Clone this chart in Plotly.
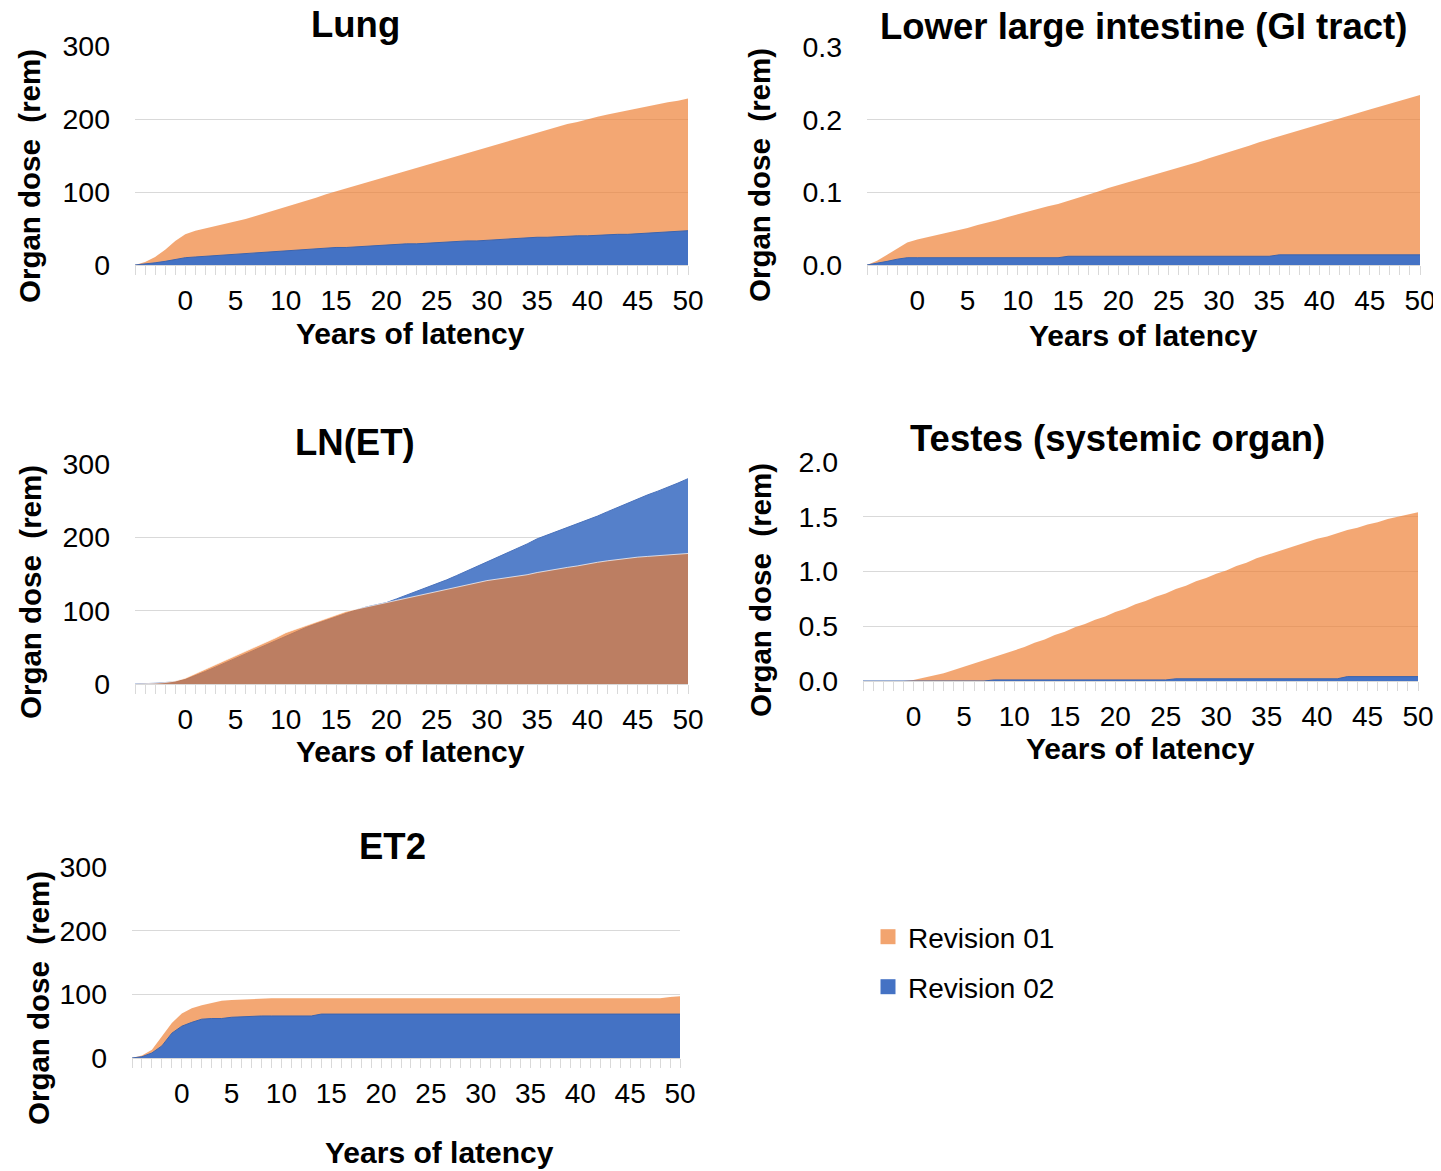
import plotly.graph_objects as go

W, H = 1441, 1171
OFF = 8  # page body margin in the browser

years = list(range(-5, 51))
x_labels = [str(y) if (y >= 0 and y % 5 == 0) else "" for y in years]

lung_r1 = [0, 4, 11, 21, 33, 42, 47, 50, 53, 56, 59, 63, 67, 71, 75, 79, 83, 88, 92, 97,
           101, 105, 110, 114, 118, 122, 126, 130, 134, 138, 142, 146, 150, 154, 157, 161,
           165, 169, 174, 178, 182, 186, 189, 193, 196, 200, 203, 206, 209, 212, 215, 218,
           220, 223, 225, 228]
lung_r2 = [0, 1, 3, 5, 8, 10, 11, 12, 12, 13, 14, 15, 16, 17, 18, 19, 20, 21, 22, 23,
           24, 24, 25, 26, 26, 27, 28, 29, 29, 30, 31, 31, 32, 33, 33, 34, 35, 36, 36, 37,
           38, 38, 39, 39, 40, 40, 41, 41, 42, 42, 43, 44, 45, 45, 46, 47]

lli_r1 = [0, 0.006, 0.014, 0.022, 0.031, 0.035, 0.038, 0.041, 0.044, 0.048, 0.051, 0.055,
          0.058, 0.062, 0.066, 0.070, 0.073, 0.077, 0.081, 0.084, 0.088, 0.092, 0.097,
          0.101, 0.106, 0.110, 0.114, 0.117, 0.121, 0.125, 0.129, 0.133, 0.138, 0.142,
          0.147, 0.151, 0.155, 0.160, 0.164, 0.169, 0.173, 0.177, 0.181, 0.186, 0.190,
          0.194, 0.198, 0.202, 0.206, 0.210, 0.214, 0.218, 0.222, 0.226, 0.230, 0.234]
lli_r2 = [0, 0.002, 0.005, 0.008, 0.010, 0.010, 0.010, 0.010, 0.010, 0.010, 0.010, 0.010,
          0.010, 0.010, 0.010, 0.010, 0.010, 0.010, 0.010, 0.010, 0.012, 0.012, 0.012,
          0.012, 0.012, 0.012, 0.012, 0.012, 0.012, 0.012, 0.012, 0.012, 0.012, 0.012,
          0.012, 0.012, 0.012, 0.012, 0.012, 0.012, 0.012, 0.014, 0.014, 0.014, 0.014,
          0.014, 0.014, 0.014, 0.014, 0.014, 0.014, 0.014, 0.014, 0.014, 0.014, 0.014]

ln_r1 = [0, 0, 1, 2, 4, 8, 14, 20, 26, 32, 38, 45, 51, 57, 63, 70, 75, 80, 85, 90,
         95, 99, 102, 105, 108, 111, 114, 118, 121, 124, 127, 130, 133, 136, 139, 141,
         143, 145, 147, 149, 152, 154, 156, 159, 161, 164, 166, 168, 170, 171, 173, 174,
         175, 176, 177, 178]
ln_r2 = [0, 0, 1, 2, 3, 6, 11, 17, 23, 29, 35, 41, 47, 53, 59, 66, 71, 77, 82, 87,
         92, 97, 101, 105, 108, 111, 116, 121, 126, 131, 136, 142, 148, 154, 160, 166,
         172, 178, 185, 191, 198, 203, 208, 213, 218, 223, 229, 235, 241, 247, 253, 258,
         263, 268, 274, 280]

testes_r1 = [0, 0, 0, 0, 0, 0.01, 0.03, 0.05, 0.07, 0.10, 0.13, 0.16, 0.19, 0.22, 0.25,
             0.28, 0.31, 0.35, 0.38, 0.42, 0.45, 0.49, 0.52, 0.56, 0.59, 0.63, 0.66, 0.70,
             0.73, 0.77, 0.80, 0.84, 0.87, 0.91, 0.94, 0.98, 1.01, 1.05, 1.08, 1.12, 1.15,
             1.18, 1.21, 1.24, 1.27, 1.30, 1.32, 1.35, 1.38, 1.40, 1.43, 1.45, 1.48, 1.50,
             1.52, 1.54]
testes_r2 = [0, 0, 0, 0, 0, 0, 0, 0, 0, 0, 0, 0, 0, 0.01, 0.01, 0.01, 0.01, 0.01, 0.01,
             0.01, 0.01, 0.01, 0.01, 0.01, 0.01, 0.01, 0.01, 0.01, 0.01, 0.01, 0.01, 0.02,
             0.02, 0.02, 0.02, 0.02, 0.02, 0.02, 0.02, 0.02, 0.02, 0.02, 0.02, 0.02, 0.02,
             0.02, 0.02, 0.02, 0.04, 0.04, 0.04, 0.04, 0.04, 0.04, 0.04, 0.04]

et2_r1 = [0, 4, 13, 34, 55, 70, 78, 83, 87, 90, 91, 92, 93, 94, 94, 94, 94, 94, 94, 94,
          94, 94, 94, 94, 94, 94, 94, 94, 94, 94, 94, 94, 94, 94, 94, 94, 94, 94, 94, 94,
          94, 94, 94, 94, 94, 94, 94, 94, 94, 94, 94, 94, 94, 94, 96, 97]
et2_r2 = [0, 2, 8, 19, 39, 50, 56, 61, 62, 62, 64, 65, 66, 66, 66, 66, 66, 66, 66, 69,
          69, 69, 69, 69, 69, 69, 69, 69, 69, 69, 69, 69, 69, 69, 69, 69, 69, 69, 69, 69,
          69, 69, 69, 69, 69, 69, 69, 69, 69, 69, 69, 69, 69, 69, 69, 69]

series_names = ["Revision 01", "Revision 02"]

ORANGE = "rgba(237,125,49,0.68)"
ORANGE_LEG = "#F2A46F"
BLUE = "#4472C4"
GRID = "#D9D9D9"
FONT = "Liberation Sans, Arial, sans-serif"


def px_x(px):
    return (px - OFF) / W


def px_y(py):
    return 1 - (py - OFF) / H


panels = [
    dict(title="Lung", r1=lung_r1, r2=lung_r2, yt=[0, 100, 200, 300], ytt=["0", "100", "200", "300"],
         xpx=(135, 688), ypx=(46, 265), otop=False, tpos=(355, 25), xtpos=(410, 333), ytpos=(30, 176)),
    dict(title="Lower large intestine (GI tract)", r1=lli_r1, r2=lli_r2, yt=[0, 0.1, 0.2, 0.3],
         ytt=["0.0", "0.1", "0.2", "0.3"], xpx=(867, 1420), ypx=(47, 265), otop=False,
         tpos=(1143, 27), xtpos=(1143, 335), ytpos=(760, 175)),
    dict(title="LN(ET)", r1=ln_r1, r2=ln_r2, yt=[0, 100, 200, 300], ytt=["0", "100", "200", "300"],
         xpx=(135, 688), ypx=(464, 684), otop=True, tpos=(355, 442), xtpos=(410, 751), ytpos=(30, 592)),
    dict(title="Testes (systemic organ)", r1=testes_r1, r2=testes_r2, yt=[0, 0.5, 1.0, 1.5, 2.0],
         ytt=["0.0", "0.5", "1.0", "1.5", "2.0"], xpx=(863, 1418), ypx=(462, 681), otop=False,
         tpos=(1117, 438), xtpos=(1140, 748), ytpos=(760, 590)),
    dict(title="ET2", r1=et2_r1, r2=et2_r2, yt=[0, 100, 200, 300], ytt=["0", "100", "200", "300"],
         xpx=(132, 680), ypx=(867, 1058), otop=False, tpos=(392, 846), xtpos=(440, 1152), ytpos=(38, 998)),
]

fig = go.Figure()
annotations = []
layout_axes = {}

for i, p in enumerate(panels, start=1):
    xa = "x" if i == 1 else f"x{i}"
    ya = "y" if i == 1 else f"y{i}"
    orange_tr = go.Scatter(x=years, y=p["r1"], mode="lines", fill="tozeroy",
                           fillcolor=ORANGE, line=dict(width=0, color=ORANGE),
                           name=series_names[0], showlegend=False, xaxis=xa, yaxis=ya)
    blue_tr = go.Scatter(x=years, y=p["r2"], mode="lines", fill="tozeroy",
                         fillcolor=BLUE, line=dict(width=1, color="#3C64AE"),
                         name=series_names[1], showlegend=False, xaxis=xa, yaxis=ya)
    if p["otop"]:
        blue_tr.fillcolor = "#5580CA"
        blue_tr.line = dict(width=1, color="#4A72BC")
        orange_tr.line = dict(width=1, color="rgba(255,255,255,0.7)")
        fig.add_trace(blue_tr)
        fig.add_trace(orange_tr)
    else:
        fig.add_trace(orange_tr)
        fig.add_trace(blue_tr)

    x0, x1 = p["xpx"]
    yt, yb = p["ypx"]
    xkey = "xaxis" if i == 1 else f"xaxis{i}"
    ykey = "yaxis" if i == 1 else f"yaxis{i}"
    layout_axes[xkey] = dict(
        domain=[px_x(x0), px_x(x1)], anchor=ya, range=[-5, 50], automargin=False,
        tickmode="array", tickvals=years, ticktext=x_labels,
        ticks="outside", ticklen=9, tickcolor=GRID, tickwidth=1,
        showline=True, linecolor=GRID, linewidth=1, showgrid=False, zeroline=False,
        tickfont=dict(family=FONT, size=28, color="#000000"), ticklabelstandoff=1,
        fixedrange=True,
    )
    layout_axes[ykey] = dict(
        domain=[px_y(yb), px_y(yt)], anchor=xa, range=[0, p["yt"][-1]], automargin=False,
        tickmode="array", tickvals=p["yt"], ticktext=p["ytt"],
        showgrid=True, gridcolor=GRID, gridwidth=1, zeroline=False, showline=False,
        ticks="", tickfont=dict(family=FONT, size=28.5, color="#000000"), ticklabelstandoff=24,
        fixedrange=True,
    )
    tx, ty = p["tpos"]
    annotations.append(dict(text=f"<b>{p['title']}</b>", x=px_x(tx), y=px_y(ty), xref="paper",
                            yref="paper", xanchor="center", yanchor="middle", showarrow=False,
                            font=dict(family=FONT, size=36.5, color="#000000")))
    ax, ay = p["xtpos"]
    annotations.append(dict(text="<b>Years of latency</b>", x=px_x(ax), y=px_y(ay), xref="paper",
                            yref="paper", xanchor="center", yanchor="middle", showarrow=False,
                            font=dict(family=FONT, size=30, color="#000000")))
    yx, yy = p["ytpos"]
    annotations.append(dict(text="<b>Organ dose  (rem)</b>", x=px_x(yx), y=px_y(yy), xref="paper",
                            yref="paper", xanchor="center", yanchor="middle", showarrow=False,
                            textangle=-90, font=dict(family=FONT, size=29.5, color="#000000")))

fig.add_trace(go.Scatter(x=[None], y=[None], mode="markers", name=series_names[0],
                         marker=dict(symbol="square", size=15, color=ORANGE_LEG),
                         legend="legend", showlegend=True))
fig.add_trace(go.Scatter(x=[None], y=[None], mode="markers", name=series_names[1],
                         marker=dict(symbol="square", size=15, color=BLUE),
                         legend="legend2", showlegend=True))

fig.update_layout(
    width=W, height=H, margin=dict(l=0, r=0, t=0, b=0, autoexpand=False),
    paper_bgcolor="white", plot_bgcolor="white",
    annotations=annotations,
    legend=dict(x=px_x(868), y=px_y(937), xanchor="left", yanchor="middle",
                font=dict(family=FONT, size=28, color="#000000"), itemwidth=30,
                bgcolor="rgba(0,0,0,0)"),
    legend2=dict(x=px_x(868), y=px_y(987), xanchor="left", yanchor="middle",
                 font=dict(family=FONT, size=28, color="#000000"), itemwidth=30,
                 bgcolor="rgba(0,0,0,0)"),
    **layout_axes,
)

fig.write_html("out.html")
